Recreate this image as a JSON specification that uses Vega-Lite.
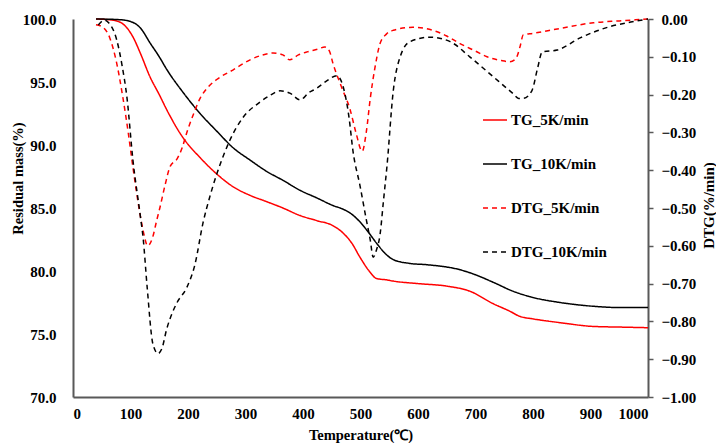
{
  "$schema": "https://vega.github.io/schema/vega-lite/v6.json",
  "width": 575,
  "height": 378,
  "autosize": {"type": "none"},
  "padding": {"left": 73, "top": 19, "right": 68, "bottom": 46},
  "background": "white",
  "config": {
    "view": {"stroke": null},
    "font": "Liberation Serif",
    "axis": {"grid": false, "labelFont": "Liberation Serif", "titleFont": "Liberation Serif", "labelFontWeight": "bold", "titleFontWeight": "bold", "labelFontSize": 15, "titleFontSize": 14.5, "labelColor": "#000", "titleColor": "#000", "domainColor": "#595959", "domainWidth": 2, "tickColor": "#595959", "tickWidth": 1.5},
    "legend": {"labelFont": "Liberation Serif", "labelFontWeight": "bold", "labelFontSize": 15, "labelColor": "#000"}
  },
  "datasets": {
    "tg": [
      {"T":40,"v":100,"s":"TG_5K/min"},{"T":70,"v":99.9,"s":"TG_5K/min"},{"T":87,"v":99.6,"s":"TG_5K/min"},{"T":104,"v":98.6,"s":"TG_5K/min"},{"T":117,"v":97.3,"s":"TG_5K/min"},{"T":134,"v":95.4,"s":"TG_5K/min"},{"T":150,"v":94.0,"s":"TG_5K/min"},{"T":163,"v":92.8,"s":"TG_5K/min"},{"T":191,"v":90.6,"s":"TG_5K/min"},{"T":221,"v":89.0,"s":"TG_5K/min"},{"T":250,"v":87.7,"s":"TG_5K/min"},{"T":278,"v":86.7,"s":"TG_5K/min"},{"T":308,"v":86.0,"s":"TG_5K/min"},{"T":337,"v":85.5,"s":"TG_5K/min"},{"T":365,"v":85.0,"s":"TG_5K/min"},{"T":395,"v":84.4,"s":"TG_5K/min"},{"T":424,"v":84.0,"s":"TG_5K/min"},{"T":452,"v":83.6,"s":"TG_5K/min"},{"T":470,"v":83.0,"s":"TG_5K/min"},{"T":485,"v":82.2,"s":"TG_5K/min"},{"T":499,"v":81.1,"s":"TG_5K/min"},{"T":515,"v":80.0,"s":"TG_5K/min"},{"T":528,"v":79.4,"s":"TG_5K/min"},{"T":545,"v":79.3,"s":"TG_5K/min"},{"T":557,"v":79.2,"s":"TG_5K/min"},{"T":600,"v":79.0,"s":"TG_5K/min"},{"T":650,"v":78.8,"s":"TG_5K/min"},{"T":690,"v":78.4,"s":"TG_5K/min"},{"T":731,"v":77.4,"s":"TG_5K/min"},{"T":760,"v":76.8,"s":"TG_5K/min"},{"T":777,"v":76.4,"s":"TG_5K/min"},{"T":800,"v":76.2,"s":"TG_5K/min"},{"T":847,"v":75.9,"s":"TG_5K/min"},{"T":905,"v":75.6,"s":"TG_5K/min"},{"T":950,"v":75.55,"s":"TG_5K/min"},{"T":1000,"v":75.5,"s":"TG_5K/min"},
      {"T":40,"v":100,"s":"TG_10K/min"},{"T":80,"v":99.95,"s":"TG_10K/min"},{"T":100,"v":99.8,"s":"TG_10K/min"},{"T":117,"v":99.3,"s":"TG_10K/min"},{"T":134,"v":98.1,"s":"TG_10K/min"},{"T":150,"v":97.0,"s":"TG_10K/min"},{"T":163,"v":96.0,"s":"TG_10K/min"},{"T":191,"v":94.2,"s":"TG_10K/min"},{"T":221,"v":92.5,"s":"TG_10K/min"},{"T":250,"v":91.1,"s":"TG_10K/min"},{"T":278,"v":89.8,"s":"TG_10K/min"},{"T":308,"v":88.8,"s":"TG_10K/min"},{"T":337,"v":87.9,"s":"TG_10K/min"},{"T":365,"v":87.2,"s":"TG_10K/min"},{"T":395,"v":86.4,"s":"TG_10K/min"},{"T":424,"v":85.8,"s":"TG_10K/min"},{"T":452,"v":85.2,"s":"TG_10K/min"},{"T":470,"v":84.9,"s":"TG_10K/min"},{"T":482,"v":84.6,"s":"TG_10K/min"},{"T":499,"v":83.9,"s":"TG_10K/min"},{"T":515,"v":83.0,"s":"TG_10K/min"},{"T":528,"v":82.2,"s":"TG_10K/min"},{"T":545,"v":81.3,"s":"TG_10K/min"},{"T":557,"v":80.9,"s":"TG_10K/min"},{"T":586,"v":80.6,"s":"TG_10K/min"},{"T":615,"v":80.5,"s":"TG_10K/min"},{"T":673,"v":80.1,"s":"TG_10K/min"},{"T":700,"v":79.7,"s":"TG_10K/min"},{"T":731,"v":79.1,"s":"TG_10K/min"},{"T":765,"v":78.4,"s":"TG_10K/min"},{"T":800,"v":77.9,"s":"TG_10K/min"},{"T":847,"v":77.5,"s":"TG_10K/min"},{"T":905,"v":77.2,"s":"TG_10K/min"},{"T":950,"v":77.1,"s":"TG_10K/min"},{"T":1000,"v":77.1,"s":"TG_10K/min"}
    ],
    "dtg": [
      {"T":40,"v":-0.015,"s":"DTG_5K/min"},{"T":50,"v":-0.02,"s":"DTG_5K/min"},{"T":64,"v":-0.05,"s":"DTG_5K/min"},{"T":75,"v":-0.11,"s":"DTG_5K/min"},{"T":87,"v":-0.21,"s":"DTG_5K/min"},{"T":96,"v":-0.30,"s":"DTG_5K/min"},{"T":104,"v":-0.39,"s":"DTG_5K/min"},{"T":117,"v":-0.52,"s":"DTG_5K/min"},{"T":122,"v":-0.56,"s":"DTG_5K/min"},{"T":130,"v":-0.60,"s":"DTG_5K/min"},{"T":138,"v":-0.58,"s":"DTG_5K/min"},{"T":146,"v":-0.53,"s":"DTG_5K/min"},{"T":151,"v":-0.50,"s":"DTG_5K/min"},{"T":160,"v":-0.44,"s":"DTG_5K/min"},{"T":169,"v":-0.39,"s":"DTG_5K/min"},{"T":181,"v":-0.37,"s":"DTG_5K/min"},{"T":190,"v":-0.34,"s":"DTG_5K/min"},{"T":198,"v":-0.30,"s":"DTG_5K/min"},{"T":210,"v":-0.25,"s":"DTG_5K/min"},{"T":221,"v":-0.21,"s":"DTG_5K/min"},{"T":235,"v":-0.18,"s":"DTG_5K/min"},{"T":250,"v":-0.16,"s":"DTG_5K/min"},{"T":278,"v":-0.135,"s":"DTG_5K/min"},{"T":308,"v":-0.108,"s":"DTG_5K/min"},{"T":330,"v":-0.095,"s":"DTG_5K/min"},{"T":348,"v":-0.09,"s":"DTG_5K/min"},{"T":365,"v":-0.095,"s":"DTG_5K/min"},{"T":377,"v":-0.108,"s":"DTG_5K/min"},{"T":392,"v":-0.095,"s":"DTG_5K/min"},{"T":407,"v":-0.087,"s":"DTG_5K/min"},{"T":425,"v":-0.08,"s":"DTG_5K/min"},{"T":438,"v":-0.074,"s":"DTG_5K/min"},{"T":446,"v":-0.085,"s":"DTG_5K/min"},{"T":452,"v":-0.117,"s":"DTG_5K/min"},{"T":467,"v":-0.18,"s":"DTG_5K/min"},{"T":482,"v":-0.24,"s":"DTG_5K/min"},{"T":492,"v":-0.30,"s":"DTG_5K/min"},{"T":503,"v":-0.35,"s":"DTG_5K/min"},{"T":510,"v":-0.30,"s":"DTG_5K/min"},{"T":517,"v":-0.21,"s":"DTG_5K/min"},{"T":525,"v":-0.13,"s":"DTG_5K/min"},{"T":534,"v":-0.065,"s":"DTG_5K/min"},{"T":545,"v":-0.04,"s":"DTG_5K/min"},{"T":557,"v":-0.03,"s":"DTG_5K/min"},{"T":591,"v":-0.022,"s":"DTG_5K/min"},{"T":626,"v":-0.03,"s":"DTG_5K/min"},{"T":650,"v":-0.045,"s":"DTG_5K/min"},{"T":673,"v":-0.065,"s":"DTG_5K/min"},{"T":700,"v":-0.085,"s":"DTG_5K/min"},{"T":720,"v":-0.10,"s":"DTG_5K/min"},{"T":745,"v":-0.11,"s":"DTG_5K/min"},{"T":760,"v":-0.113,"s":"DTG_5K/min"},{"T":768,"v":-0.108,"s":"DTG_5K/min"},{"T":772,"v":-0.10,"s":"DTG_5K/min"},{"T":778,"v":-0.07,"s":"DTG_5K/min"},{"T":783,"v":-0.042,"s":"DTG_5K/min"},{"T":800,"v":-0.038,"s":"DTG_5K/min"},{"T":847,"v":-0.025,"s":"DTG_5K/min"},{"T":905,"v":-0.01,"s":"DTG_5K/min"},{"T":950,"v":-0.005,"s":"DTG_5K/min"},{"T":1000,"v":0.0,"s":"DTG_5K/min"},
      {"T":44,"v":-0.016,"s":"DTG_10K/min"},{"T":55,"v":-0.003,"s":"DTG_10K/min"},{"T":62,"v":-0.01,"s":"DTG_10K/min"},{"T":76,"v":-0.055,"s":"DTG_10K/min"},{"T":85,"v":-0.12,"s":"DTG_10K/min"},{"T":94,"v":-0.21,"s":"DTG_10K/min"},{"T":104,"v":-0.37,"s":"DTG_10K/min"},{"T":117,"v":-0.52,"s":"DTG_10K/min"},{"T":122,"v":-0.58,"s":"DTG_10K/min"},{"T":129,"v":-0.71,"s":"DTG_10K/min"},{"T":139,"v":-0.86,"s":"DTG_10K/min"},{"T":148,"v":-0.885,"s":"DTG_10K/min"},{"T":155,"v":-0.87,"s":"DTG_10K/min"},{"T":163,"v":-0.82,"s":"DTG_10K/min"},{"T":172,"v":-0.78,"s":"DTG_10K/min"},{"T":181,"v":-0.75,"s":"DTG_10K/min"},{"T":198,"v":-0.71,"s":"DTG_10K/min"},{"T":212,"v":-0.65,"s":"DTG_10K/min"},{"T":226,"v":-0.54,"s":"DTG_10K/min"},{"T":238,"v":-0.47,"s":"DTG_10K/min"},{"T":250,"v":-0.41,"s":"DTG_10K/min"},{"T":262,"v":-0.36,"s":"DTG_10K/min"},{"T":273,"v":-0.32,"s":"DTG_10K/min"},{"T":296,"v":-0.26,"s":"DTG_10K/min"},{"T":325,"v":-0.22,"s":"DTG_10K/min"},{"T":345,"v":-0.20,"s":"DTG_10K/min"},{"T":360,"v":-0.19,"s":"DTG_10K/min"},{"T":377,"v":-0.196,"s":"DTG_10K/min"},{"T":395,"v":-0.214,"s":"DTG_10K/min"},{"T":410,"v":-0.195,"s":"DTG_10K/min"},{"T":424,"v":-0.183,"s":"DTG_10K/min"},{"T":440,"v":-0.165,"s":"DTG_10K/min"},{"T":459,"v":-0.15,"s":"DTG_10K/min"},{"T":470,"v":-0.18,"s":"DTG_10K/min"},{"T":480,"v":-0.26,"s":"DTG_10K/min"},{"T":487,"v":-0.35,"s":"DTG_10K/min"},{"T":499,"v":-0.44,"s":"DTG_10K/min"},{"T":510,"v":-0.53,"s":"DTG_10K/min"},{"T":517,"v":-0.585,"s":"DTG_10K/min"},{"T":522,"v":-0.63,"s":"DTG_10K/min"},{"T":528,"v":-0.61,"s":"DTG_10K/min"},{"T":534,"v":-0.57,"s":"DTG_10K/min"},{"T":540,"v":-0.48,"s":"DTG_10K/min"},{"T":546,"v":-0.39,"s":"DTG_10K/min"},{"T":557,"v":-0.19,"s":"DTG_10K/min"},{"T":569,"v":-0.10,"s":"DTG_10K/min"},{"T":586,"v":-0.06,"s":"DTG_10K/min"},{"T":621,"v":-0.048,"s":"DTG_10K/min"},{"T":656,"v":-0.06,"s":"DTG_10K/min"},{"T":690,"v":-0.10,"s":"DTG_10K/min"},{"T":731,"v":-0.153,"s":"DTG_10K/min"},{"T":765,"v":-0.197,"s":"DTG_10K/min"},{"T":775,"v":-0.21,"s":"DTG_10K/min"},{"T":783,"v":-0.21,"s":"DTG_10K/min"},{"T":798,"v":-0.19,"s":"DTG_10K/min"},{"T":808,"v":-0.13,"s":"DTG_10K/min"},{"T":816,"v":-0.087,"s":"DTG_10K/min"},{"T":842,"v":-0.082,"s":"DTG_10K/min"},{"T":882,"v":-0.05,"s":"DTG_10K/min"},{"T":934,"v":-0.02,"s":"DTG_10K/min"},{"T":970,"v":-0.008,"s":"DTG_10K/min"},{"T":1000,"v":0.0,"s":"DTG_10K/min"}
    ]
  },
  "encoding": {
    "x": {"field": "T", "type": "quantitative", "scale": {"domain": [0, 1000], "nice": false}, "axis": {"title": "Temperature(℃)", "values": [0,100,200,300,400,500,600,700,800,900,1000], "format": "d", "ticks": false, "labelPadding": 9, "titlePadding": 7}},
    "color": {"field": "s", "type": "nominal", "scale": {"domain": ["TG_5K/min","TG_10K/min","DTG_5K/min","DTG_10K/min"], "range": ["#ff0000","#000000","#ff0000","#000000"]}, "legend": {"title": null, "orient": "none", "legendX": 409, "legendY": 88, "symbolType": "stroke", "symbolSize": 576, "symbolStrokeWidth": 1.5, "labelOffset": 3, "rowPadding": 23}},
    "strokeDash": {"field": "s", "type": "nominal", "scale": {"domain": ["TG_5K/min","TG_10K/min","DTG_5K/min","DTG_10K/min"], "range": [[1,0],[1,0],[5,4],[5,4]]}, "legend": {"title": null, "orient": "none", "legendX": 409, "legendY": 88, "symbolType": "stroke", "symbolSize": 576, "symbolStrokeWidth": 1.5, "labelOffset": 3, "rowPadding": 23}}
  },
  "layer": [
    {
      "data": {"name": "tg"},
      "mark": {"type": "line", "strokeWidth": 1.5, "interpolate": "monotone"},
      "encoding": {
        "y": {"field": "v", "type": "quantitative", "scale": {"domain": [70, 100], "nice": false, "zero": false}, "axis": {"orient": "left", "title": "Residual mass(%)", "values": [70,75,80,85,90,95,100], "format": ".1f", "ticks": false, "labelPadding": 17, "titleX": -55, "titleY": 159, "titleAngle": 270, "titleAlign": "center", "titleBaseline": "middle"}}
      }
    },
    {
      "data": {"name": "dtg"},
      "mark": {"type": "line", "strokeWidth": 1.5, "interpolate": "monotone"},
      "encoding": {
        "y": {"field": "v", "type": "quantitative", "scale": {"domain": [-1, 0], "nice": false, "zero": false}, "axis": {"orient": "right", "title": "DTG(%/min)", "values": [-1,-0.9,-0.8,-0.7,-0.6,-0.5,-0.4,-0.3,-0.2,-0.1,0], "format": ".2f", "ticks": true, "tickSize": 5, "labelPadding": 8, "titleFontSize": 15, "titleX": 60, "titleY": 186, "titleAngle": 270, "titleAlign": "center", "titleBaseline": "middle"}}
      }
    }
  ],
  "resolve": {"scale": {"y": "independent"}}
}
